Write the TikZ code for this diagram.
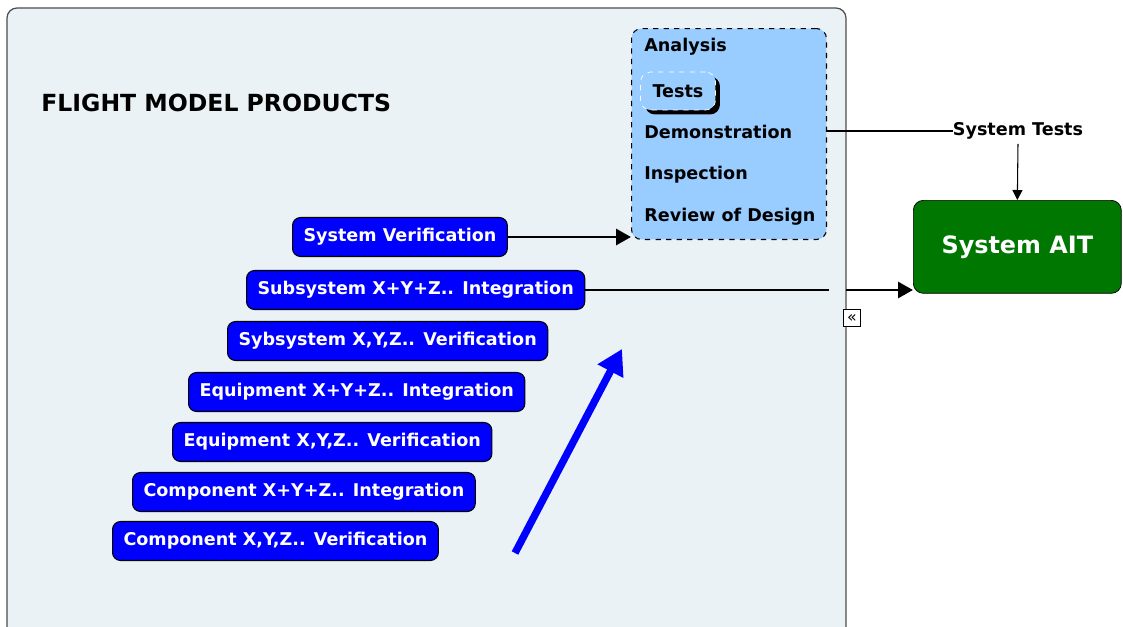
\documentclass[tikz,border=0pt]{standalone}
\usepackage{fontspec}
\setmainfont{DejaVu Sans}
\usetikzlibrary{positioning,shadows,arrows.meta}
\definecolor{panelbg}{RGB}{234,242,245}
\definecolor{stepblue}{RGB}{0,0,255}
\definecolor{methodblue}{RGB}{153,204,255}
\definecolor{aitgreen}{RGB}{0,119,0}
\tikzset{
	stepbox/.style={draw=black, fill=stepblue, text=white, rounded corners=0.16cm, line width=0.6pt,
		font=\bfseries\fontsize{10}{12}\selectfont, minimum height=0.78cm, inner xsep=0.22cm, anchor=west},
	method/.style={font=\bfseries\fontsize{10}{12}\selectfont, anchor=west, inner sep=0pt},
	link/.style={line width=1.7pt, -{Triangle[length=0.3cm,width=0.32cm]}},
}

\begin{document}
\begin{tikzpicture}[x=0.02cm, y=-0.02cm]
	\useasboundingbox (0,0) rectangle (1123,626);
	\fill[panelbg, rounded corners=0.2cm] (7,640) -- (7,8) -- (846,8) -- (846,640);
	\draw[black!70, line width=0.7pt, rounded corners=0.2cm] (7,640) -- (7,8) -- (846,8) -- (846,640);
	\node[anchor=west, inner sep=0pt, font=\bfseries\fontsize{13.4}{15}\selectfont] (title) at (41,103) {FLIGHT MODEL PRODUCTS};

	\node[stepbox] (sysver) at (292,237) {System Verification};
	\node[stepbox] (subint) at (246,290) {Subsystem X+Y+Z.. Integration};
	\node[stepbox] (subver) at (227,341) {Sybsystem X,Y,Z.. Verification};
	\node[stepbox] (equint) at (188,392) {Equipment X+Y+Z.. Integration};
	\node[stepbox] (equver) at (172,442) {Equipment X,Y,Z.. Verification};
	\node[stepbox] (comint) at (132,492) {Component X+Y+Z.. Integration};
	\node[stepbox] (comver) at (112,541) {Component X,Y,Z.. Verification};

	\node[draw, dashed, line width=0.6pt, fill=methodblue, rounded corners=0.2cm, anchor=north west,
		minimum width=3.9cm, minimum height=4.22cm] (methods) at (631,28) {};
	\node[method] (analysis) at (644,47) {Analysis};
	\node[draw=white, dashed, fill=methodblue, rounded corners=0.2cm, minimum width=1.5cm, minimum height=0.76cm,
		font=\bfseries\fontsize{10}{12}\selectfont,
		drop shadow={shadow xshift=0.09cm, shadow yshift=-0.09cm, fill=black, opacity=1}] (tests) at (678,91) {Tests};
	\node[method] (demo) at (644,132) {Demonstration};
	\node[method] (inspect) at (644,175) {Inspection};
	\node[method] (review) at (644,217) {Review of Design};

	\node[draw=black, fill=aitgreen, text=white, rounded corners=0.2cm, anchor=north west, minimum width=4.16cm,
		minimum height=1.86cm, font=\bfseries\fontsize{13.6}{15}\selectfont] (ait) at (913,200) {System AIT};
	\node[inner sep=0pt, font=\bfseries\fontsize{10}{12}\selectfont] (systests) at (1018,131) {System Tests};
	\node[draw, fill=white, inner sep=0pt, minimum size=0.34cm, font=\fontsize{9}{9}\selectfont] (collapse) at (852,318) {«};

	\coordinate (gapL) at (829,290);
	\coordinate (gapR) at (846,290);
	\coordinate (climbA) at (515,553);
	\coordinate (climbB) at (622,349);

	\draw[link] (sysver.east) -- (sysver.east -| methods.west);
	\draw[line width=1.7pt] (subint.east) -- (gapL);
	\draw[link] (gapR) -- (subint.east -| ait.west);
	\draw[line width=1.7pt] (methods.east |- systests.west) -- (systests.west);
	\draw[line width=0.6pt, -{Triangle[length=0.2cm,width=0.2cm]}] (systests.south) ++(0,4) -- (ait.north);
	\draw[stepblue, line width=4.2pt, -{Triangle[length=0.5cm,width=0.55cm]}] (climbA) -- (climbB);
\end{tikzpicture}
\end{document}
